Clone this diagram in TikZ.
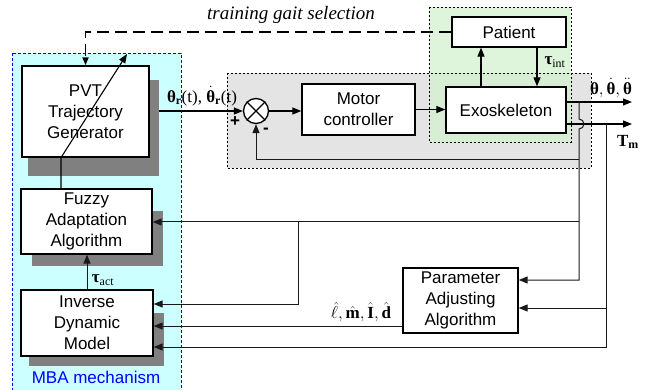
\documentclass[tikz,border=0pt]{standalone}
\usepackage{amsmath,amssymb,bm}
\usepackage{fontspec}
\setmainfont{Liberation Serif}
\setsansfont{Liberation Sans}
\usetikzlibrary{arrows.meta,positioning,calc}
\definecolor{mbacyan}{HTML}{CCFFFF}
\definecolor{mbablue}{HTML}{0000FF}
\definecolor{loopgray}{HTML}{E4E4E4}
\definecolor{exogreen}{HTML}{D3F2CF}
\definecolor{shadowgray}{HTML}{808080}
\newcommand{\bth}{\text{\bfseries θ}}
\newcommand{\btau}{\text{\bfseries τ}}

\begin{document}
\begin{tikzpicture}[x=1pt, y=-1pt,
  block/.style={rectangle, draw, line width=1.3pt, fill=white, align=center, inner sep=0pt, font=\fontsize{17}{21}\selectfont\sffamily},
  shadowbox/.style={rectangle, fill=shadowgray, inner sep=0pt},
  sig/.style={-{Triangle[length=9pt,width=7pt]}, line width=1.2pt},
  fb/.style={-{Triangle[length=9pt,width=7pt]}, line width=1pt, black!90},
  gait/.style={-{Triangle[length=8pt,width=6pt]}, line width=1.8pt, dash pattern=on 12pt off 6pt},
  lbl/.style={font=\fontsize{17}{18}\selectfont}
]
  \useasboundingbox (0,0) rectangle (645,390);

  % regions
  \filldraw[draw=mbablue, fill=mbacyan, line width=0.8pt, dash pattern=on 3pt off 2pt] (12,53) rectangle (181,396);
  \fill[loopgray] (227,73) rectangle (591,168);
  \fill[exogreen, fill opacity=0.75] (429,7) rectangle (571,142);
  \draw[line width=0.6pt, dash pattern=on 2pt off 2pt] (227,73) rectangle (591,168);
  \draw[line width=0.6pt, dash pattern=on 2pt off 2pt] (429,7) rectangle (571,142);

  % shadows
  \node[shadowbox, minimum width=131pt, minimum height=96pt] (pvtsh) at (93.5,128) {};
  \node[shadowbox, minimum width=131pt, minimum height=55pt] (fuzzysh) at (97.5,238.5) {};
  \node[shadowbox, minimum width=135pt, minimum height=53pt] (inversesh) at (96.5,339.5) {};

  % blocks
  \node[block, minimum width=127pt, minimum height=91pt] (pvt) at (85.5,111.5) {PVT\\Trajectory\\Generator};
  \node[block, minimum width=131pt, minimum height=65pt] (fuzzy) at (86.5,221.5) {Fuzzy\\Adaptation\\Algorithm};
  \node[block, minimum width=132pt, minimum height=66pt] (inverse) at (87,323) {Inverse\\Dynamic\\Model};
  \node[block, minimum width=113pt, minimum height=51pt] (motor) at (358.5,109.5) {Motor\\controller};
  \node[block, minimum width=120pt, minimum height=46pt] (exo) at (506,110) {Exoskeleton};
  \node[block, minimum width=114pt, minimum height=30pt] (patient) at (509,32) {Patient};
  \node[block, minimum width=115pt, minimum height=65pt] (param) at (460.5,300.5) {Parameter\\Adjusting\\Algorithm};
  \node[circle, draw, line width=1.3pt, fill=white, minimum size=25pt, inner sep=0pt] (sum) at (256,111) {};
  \draw[line width=1.1pt] (sum.north west) -- (sum.south east) (sum.north east) -- (sum.south west);

  \coordinate (thout) at (632,102);
  \coordinate (tmout) at (632,124);
  \coordinate (fbsplit) at (579,102);
  \coordinate (fbloop) at (579,160);
  \coordinate (fbfuzzy) at (579,222);
  \coordinate (fbparam) at (579,280);
  \coordinate (junc) at (298,222);
  \coordinate (tmsplit) at (606,124);
  \coordinate (tmparam) at (606,308);
  \coordinate (tmcorner) at (606,347);
  \coordinate (adjtip) at (127,54);
  \coordinate (hatout) at ([yshift=-25.5pt]param.west);

  % forward path
  \draw[sig] (pvtsh.east |- sum.west) -- (sum.west);
  \draw[sig] (sum.east) -- (motor.west |- sum.east);
  \draw[sig] (motor.east) -- (exo.west |- motor.east);
  \draw[sig] ([xshift=-25pt]exo.north) -- ([xshift=-25pt]exo.north |- patient.south);
  \draw[sig] ([xshift=28pt]patient.south) -- ([xshift=28pt]patient.south |- exo.north);
  \draw[sig] (exo.east |- thout) -- (thout);
  \draw[sig] (exo.east |- tmout) -- (tmout);

  % feedback
  \draw[fb] (fbsplit) -- (579,119) arc[start angle=-90, end angle=90, radius=5] -- (fbparam) -- (param.east |- fbparam);
  \draw[fb] (fbloop) -| (sum.south);
  \draw[fb] (fbfuzzy) -- (fuzzy.east |- fbfuzzy);
  \draw[fb] (junc) |- ([yshift=19pt]inverse.east);
  \draw[fb] (tmsplit) -- (tmcorner) -- (inverse.east |- tmcorner);
  \draw[fb] (tmparam) -- (param.east |- tmparam);
  \draw[fb] (hatout) -- (inverse.east |- hatout);
  \draw[fb] (inverse.north) -- (inverse.north |- fuzzy.south);
  \draw[fb, black, line width=1.1pt] ([xshift=-25.5pt]fuzzy.north) -- ([xshift=-24.5pt]pvt.south) -- (adjtip);
  \draw[gait] (patient.west) -| (pvt.north);

  % labels
  \node[lbl] (thr) at (202,96) {$\bth_{\mathbf r}$(t), $\dot{\bth}_{\mathbf r}$(t)};
  \node[font=\fontsize{17}{17}\selectfont\sffamily\bfseries] (plus) at (235,122) {+};
  \node[font=\fontsize{17}{17}\selectfont\sffamily\bfseries] (minus) at (266,131) {-};
  \node[lbl] (tauint) at (555,62) {$\btau_{\text{int}}$};
  \node[lbl] (thdd) at (611,88) {$\bth\mathbf{,}\,\dot{\bth}\mathbf{,}\,\ddot{\bth}$};
  \node[lbl] (tm) at (628,142) {$\mathbf{T}_{\mathbf m}$};
  \node[lbl] (tauact) at (103,280) {$\btau_{\text{act}}$};
  \node[lbl] (hat) at (361,312) {$\hat{\ell}\mathbf{,}\,\hat{\mathbf m}\mathbf{,}\,\hat{\mathbf I}\mathbf{,}\,\hat{\mathbf d}$};
  \node[font=\fontsize{19}{22}\selectfont\itshape] (gaittxt) at (291,15) {training gait selection};
  \node[text=mbablue, font=\fontsize{17}{20}\selectfont\sffamily] (mba) at (96,377) {MBA mechanism};
\end{tikzpicture}
\end{document}
